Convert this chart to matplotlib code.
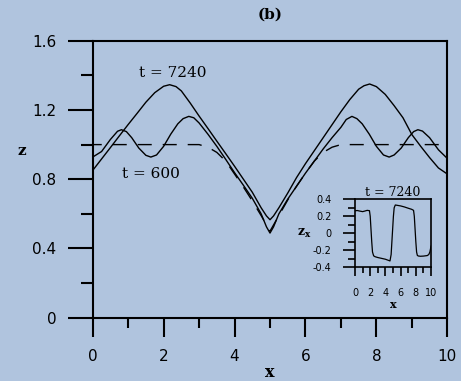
import matplotlib
matplotlib.use("Agg")
import matplotlib.pyplot as plt
from matplotlib.ticker import MultipleLocator

# Data
x_late = [0, 0.25, 0.5, 0.75, 1.0, 1.25, 1.5, 1.75, 2.0, 2.17, 2.35, 2.5, 2.75,
          3.0, 3.25, 3.5, 3.75, 4.0, 4.25, 4.5, 4.75, 4.9, 5.0, 5.1, 5.25, 5.5,
          5.75, 6.0, 6.25, 6.5, 6.75, 7.0, 7.25, 7.5, 7.65, 7.81, 8.0, 8.25,
          8.5, 8.75, 9.0, 9.25, 9.5, 9.75, 10.0]
z_late = [0.851, 0.917, 0.983, 1.05, 1.116, 1.18, 1.245, 1.30, 1.337, 1.346,
          1.335, 1.31, 1.24, 1.165, 1.093, 1.02, 0.948, 0.875, 0.80, 0.725,
          0.635, 0.588, 0.566, 0.588, 0.635, 0.72, 0.81, 0.89, 0.965, 1.04,
          1.115, 1.19, 1.26, 1.32, 1.34, 1.35, 1.335, 1.29, 1.225, 1.155,
          1.058, 0.99, 0.925, 0.865, 0.83]

x_early = [0, 0.25, 0.5, 0.7, 0.81, 0.95, 1.1, 1.3, 1.5, 1.64, 1.8, 2.0, 2.2,
           2.4, 2.55, 2.71, 2.85, 3.0, 3.25, 3.5, 3.75, 4.0, 4.25, 4.5, 4.75,
           4.9, 5.0, 5.1, 5.25, 5.5, 5.75, 6.0, 6.25, 6.5, 6.75, 7.0, 7.15,
           7.31, 7.45, 7.6, 7.8, 8.0, 8.2, 8.36, 8.5, 8.7, 8.9, 9.05, 9.17,
           9.3, 9.5, 9.75, 10.0]
z_early = [0.928, 0.96, 1.03, 1.077, 1.086, 1.075, 1.04, 0.98, 0.938, 0.928,
           0.94, 0.99, 1.06, 1.12, 1.15, 1.163, 1.155, 1.125, 1.06, 0.99,
           0.915, 0.838, 0.765, 0.69, 0.60, 0.525, 0.489, 0.525, 0.60, 0.685,
           0.76, 0.835, 0.905, 0.975, 1.04, 1.10, 1.145, 1.163, 1.15, 1.12,
           1.06, 0.99, 0.94, 0.928, 0.94, 0.98, 1.04, 1.075, 1.086, 1.078,
           1.04, 0.97, 0.92]

x_init = [0, 3.0, 3.25, 3.5, 3.75, 4.0, 4.25, 4.5, 4.75, 5.0, 5.25, 5.5, 5.75,
          6.0, 6.25, 6.5, 6.75, 7.0, 10.0]
z_init = [1.0, 1.0, 0.985, 0.955, 0.905, 0.83, 0.755, 0.675, 0.59, 0.50, 0.59,
          0.68, 0.76, 0.835, 0.905, 0.955, 0.985, 1.0, 1.0]

x_inset = [0, 0.3, 0.6, 1.0, 1.3, 1.6, 1.9, 2.0, 2.1, 2.2, 2.3, 2.45, 2.63,
           3.0, 3.5, 4.0, 4.6, 4.75, 4.85, 4.95, 5.05, 5.15, 5.3, 5.5, 6.0,
           6.5, 7.0, 7.46, 7.7, 7.8, 7.9, 8.0, 8.1, 8.2, 8.33, 8.6, 9.0, 9.5,
           9.7, 9.85, 10.0]
zx_inset = [0.265, 0.268, 0.262, 0.255, 0.262, 0.27, 0.266, 0.2, 0.05, -0.1,
            -0.22, -0.265, -0.275, -0.285, -0.295, -0.305, -0.325, -0.25, -0.1,
            0.05, 0.2, 0.3, 0.333, 0.33, 0.322, 0.31, 0.295, 0.282, 0.27, 0.2,
            0.05, -0.1, -0.22, -0.26, -0.267, -0.27, -0.268, -0.262, -0.25,
            -0.22, -0.15]

yticks = [0, 0.4, 0.8, 1.2, 1.6]
ytick_labels = ["0", "0.4", "0.8", "1.2", "1.6"]
xticks = [0, 2, 4, 6, 8, 10]
inset_yticks = [-0.4, -0.2, 0, 0.2, 0.4]
inset_ytick_labels = ["-0.4", "-0.2", "0", "0.2", "0.4"]

bg = "#B0C4DE"
plt.rcParams["mathtext.fontset"] = "dejavuserif"

fig = plt.figure(figsize=(4.61, 3.81), dpi=100, facecolor=bg)
ax = fig.add_axes([0.2011, 0.1661, 0.7692, 0.7270], facecolor=bg)

ax.plot(x_late, z_late, color="black", lw=1.0)
ax.plot(x_early, z_early, color="black", lw=1.0)
ax.plot(x_init, z_init, color="black", lw=1.0, ls=(3.6, (10.1, 7.9)))

ax.set_xlim(0, 10)
ax.set_ylim(0, 1.6)
ax.set_yticks(yticks, labels=ytick_labels)
ax.set_xticks(xticks)
ax.xaxis.set_minor_locator(MultipleLocator(1))
ax.yaxis.set_minor_locator(MultipleLocator(0.2))
for s in ax.spines.values():
    s.set_linewidth(1.5)
ax.tick_params(axis="y", which="major", length=18, width=1.5, pad=8,
               labelsize=11, direction="out")
ax.tick_params(axis="y", which="minor", length=8.6, width=1.5, direction="out")
ax.tick_params(axis="x", which="major", length=13.7, width=1.5, pad=8.5,
               labelsize=11, direction="out")
ax.tick_params(axis="x", which="minor", length=7.2, width=1.5, direction="out")

ax.set_xlabel("x", family="DejaVu Serif", fontweight="bold", fontsize=11.5,
              va="center")
ax.xaxis.set_label_coords(0.5, -0.198)
ax.set_ylabel("z", family="DejaVu Serif", fontweight="bold", fontsize=11,
              rotation=0, ha="center", va="center")
ax.yaxis.set_label_coords(-0.2008, 0.602)
ax.text(0.5, 1.093, "(b)", transform=ax.transAxes, ha="center", va="center",
        family="DejaVu Serif", fontweight="bold", fontsize=11)

ax.text(2.26, 1.416, "t = 7240", ha="center", va="center",
        family="DejaVu Serif", fontsize=11)
ax.text(1.64, 0.833, "t = 600", ha="center", va="center",
        family="DejaVu Serif", fontsize=11)

# inset with the slope at t = 7240
ax_in = fig.add_axes([0.7701, 0.2984, 0.1649, 0.1785], facecolor=bg)
ax_in.plot(x_inset, zx_inset, color="black", lw=0.9)
ax_in.set_xlim(0, 10)
ax_in.set_ylim(-0.4, 0.4)
ax_in.set_xticks(xticks)
ax_in.set_yticks(inset_yticks, labels=inset_ytick_labels)
ax_in.xaxis.set_minor_locator(MultipleLocator(1))
ax_in.yaxis.set_minor_locator(MultipleLocator(0.1))
for s in ax_in.spines.values():
    s.set_linewidth(1.2)
ax_in.tick_params(axis="y", which="major", length=8.6, width=1.2, pad=8.4,
                  labelsize=7)
ax_in.tick_params(axis="y", which="minor", length=5, width=1.2)
ax_in.tick_params(axis="x", which="major", length=6.5, width=1.2, pad=8.6,
                  labelsize=7)
ax_in.tick_params(axis="x", which="minor", length=4.3, width=1.2)
ax_in.set_title("t = 7240", family="DejaVu Serif", fontsize=9, pad=1.5)
ax_in.set_xlabel("x", family="DejaVu Serif", fontweight="bold", fontsize=8,
                 va="center")
ax_in.xaxis.set_label_coords(0.504, -0.54)
ax_in.set_ylabel(r"$\mathbf{z}_\mathbf{x}$", fontsize=9, rotation=0,
                 ha="center", va="center")
ax_in.yaxis.set_label_coords(-0.67, 0.5)

fig.savefig("out.png", dpi=100, facecolor=bg)
